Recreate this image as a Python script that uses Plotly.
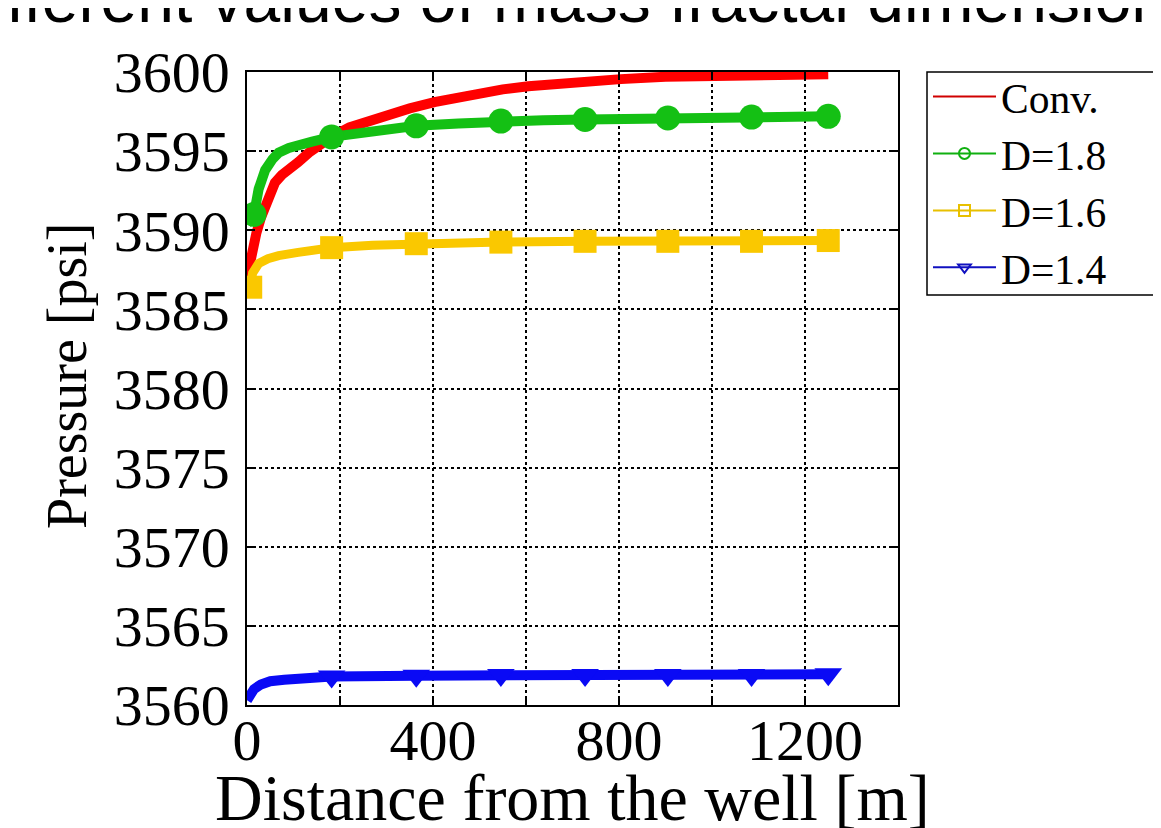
import plotly.graph_objects as go

# ---------------- data ----------------
conv_x = [0, 10, 20, 30, 45, 60, 75, 92, 110, 133, 160, 182, 220, 260, 300, 350, 403, 450, 500, 550, 605, 700, 804, 900, 1000, 1100, 1250]
conv_y = [3587.0, 3588.6, 3589.8, 3590.8, 3592.0, 3593.0, 3593.5, 3593.8, 3594.3, 3594.9, 3595.5, 3595.9, 3596.5, 3596.9, 3597.3, 3597.7, 3598.1, 3598.4, 3598.7, 3598.9, 3599.1, 3599.35, 3599.55, 3599.7, 3599.75, 3599.8, 3599.85]

d18_x = [0, 15, 25, 39, 55, 68, 90, 111, 140, 182, 270, 364, 455, 546, 637, 727, 816, 905, 995, 1085, 1170, 1250]
d18_y = [3590.4, 3591.0, 3592.6, 3593.8, 3594.5, 3594.9, 3595.2, 3595.4, 3595.6, 3595.9, 3596.3, 3596.6, 3596.75, 3596.9, 3596.95, 3597.0, 3597.05, 3597.1, 3597.1, 3597.15, 3597.15, 3597.2]
d18_marks = [15, 182, 364, 546, 727, 905, 1085, 1250]

d16_x = [0, 8, 12, 25, 45, 68, 110, 182, 270, 364, 546, 727, 905, 1085, 1250]
d16_y = [3586.2, 3586.4, 3587.3, 3587.9, 3588.2, 3588.4, 3588.6, 3588.9, 3589.05, 3589.15, 3589.25, 3589.3, 3589.3, 3589.3, 3589.35]
d16_marks = [8, 182, 364, 546, 727, 905, 1085, 1250]

d14_x = [0, 5, 15, 30, 50, 80, 120, 182, 364, 546, 727, 905, 1085, 1250]
d14_y = [3560.3, 3560.6, 3561.0, 3561.3, 3561.5, 3561.6, 3561.7, 3561.8, 3561.85, 3561.9, 3561.9, 3561.9, 3561.9, 3561.95]
d14_marks = [182, 364, 546, 727, 905, 1085, 1250]

legend_names = ["Conv.", "D=1.8", "D=1.6", "D=1.4"]
x_tick_vals = [0, 400, 800, 1200]
y_tick_vals = [3560, 3565, 3570, 3575, 3580, 3585, 3590, 3595, 3600]
title_text = "different values of mass fractal dimension"
x_title = "Distance from the well [m]"
y_title = "Pressure [psi]"

# ---------------- geometry (page pixels; the page body has an 8px offset) ----------------
OFF = 8
W, H = 1161 - OFF, 828 - OFF
PL, PR, PT, PB = 247 - OFF, 898 - OFF, 72 - OFF, 705 - OFF
PW, PH = PR - PL, PB - PT

def px(xp):  # page x -> paper x
    return (xp - OFF - PL) / PW

def py(yp):  # page y -> paper y
    return 1 - (yp - OFF - PT) / PH

# ---------------- figure ----------------
fig = go.Figure()

def sizes(xs, marks, s):
    return [s if x in marks else 0 for x in xs]

fig.add_trace(go.Scatter(x=conv_x, y=conv_y, mode="lines",
                         line=dict(color="#FF0000", width=10), showlegend=False))
fig.add_trace(go.Scatter(x=d18_x, y=d18_y, mode="lines+markers",
                         line=dict(color="#14C014", width=10),
                         marker=dict(symbol="circle", size=sizes(d18_x, d18_marks, 25), color="#14C014",
                                     opacity=1, line=dict(width=0)), showlegend=False))
fig.add_trace(go.Scatter(x=d16_x, y=d16_y, mode="lines+markers",
                         line=dict(color="#FAC800", width=9),
                         marker=dict(symbol="square", size=sizes(d16_x, d16_marks, 23), color="#FAC800",
                                     opacity=1, line=dict(width=0)), showlegend=False))
fig.add_trace(go.Scatter(x=d14_x, y=d14_y, mode="lines+markers",
                         line=dict(color="#0A0AF5", width=10),
                         marker=dict(symbol="triangle-down", size=sizes(d14_x, d14_marks, 24), color="#0A0AF5",
                                     opacity=1, line=dict(width=0)), showlegend=False))

# legend-only entries (thin lines with small open markers, as in the reference)
leg_styles = [
    dict(color="#D00000", symbol=None),
    dict(color="#10B010", symbol="circle-open"),
    dict(color="#E8C000", symbol="square-open"),
    dict(color="#1010C0", symbol="triangle-down-open"),
]
for name, st in zip(legend_names, leg_styles):
    if st["symbol"] is None:
        fig.add_trace(go.Scatter(x=[None], y=[None], mode="lines", name=name,
                                 line=dict(color=st["color"], width=2)))
    else:
        fig.add_trace(go.Scatter(x=[None], y=[None], mode="lines+markers", name=name,
                                 line=dict(color=st["color"], width=2),
                                 marker=dict(symbol=st["symbol"], size=11, color=st["color"],
                                             line=dict(width=2, color=st["color"]))))

serif = "Liberation Serif, Times New Roman, serif"
grid = dict(showgrid=True, gridcolor="black", griddash="dot", gridwidth=1.5)
axline = dict(showline=True, linecolor="black", linewidth=1.5, mirror="ticks",
              ticks="inside", ticklen=8, tickwidth=1.5, tickcolor="black", zeroline=False)

fig.update_layout(
    width=W, height=H,
    margin=dict(l=PL, r=W - PR, t=PT, b=H - PB, autoexpand=False),
    paper_bgcolor="white", plot_bgcolor="white",
    showlegend=True,
    legend=dict(x=px(928), y=1 + 9 / PH, xanchor="left", yanchor="top",
                bgcolor="rgba(0,0,0,0)", borderwidth=0,
                font=dict(family=serif, size=41.5, color="black"),
                itemwidth=63, tracegroupgap=0),
    xaxis=dict(range=[0, 1400], tickmode="array", tickvals=x_tick_vals,
               ticktext=[str(v) for v in x_tick_vals],
               minor=dict(dtick=200, tick0=0, ticks="inside", ticklen=8, tickwidth=1.5, tickcolor="black", **grid),
               tickfont=dict(family=serif, size=58, color="black"),
               ticklabelstandoff=-16, **grid, **axline),
    yaxis=dict(range=[3560, 3600], tickmode="array", tickvals=y_tick_vals,
               ticktext=[str(v) for v in y_tick_vals],
               tickfont=dict(family=serif, size=58, color="black"),
               ticklabelstandoff=4, **grid, **axline),
    shapes=[dict(type="rect", xref="paper", yref="paper",
                 x0=px(927), x1=px(1300), y0=py(295), y1=py(72),
                 line=dict(color="black", width=1.5), fillcolor="white", layer="above")],
    annotations=[
        dict(text=title_text, xref="paper", yref="paper",
             x=px(-47), y=py(38),
             xanchor="left", yanchor="bottom", showarrow=False,
             font=dict(family="Liberation Sans, Arial, sans-serif", size=66, color="black")),
        dict(text=x_title, xref="paper", yref="paper",
             x=px(572), y=py(797), xanchor="center", yanchor="middle", showarrow=False,
             font=dict(family=serif, size=66, color="black")),
        dict(text=y_title, xref="paper", yref="paper", textangle=-90,
             x=px(67), y=py(376), xanchor="center", yanchor="middle", showarrow=False,
             font=dict(family=serif, size=56, color="black")),
    ],
)

fig.write_html("out.html")
